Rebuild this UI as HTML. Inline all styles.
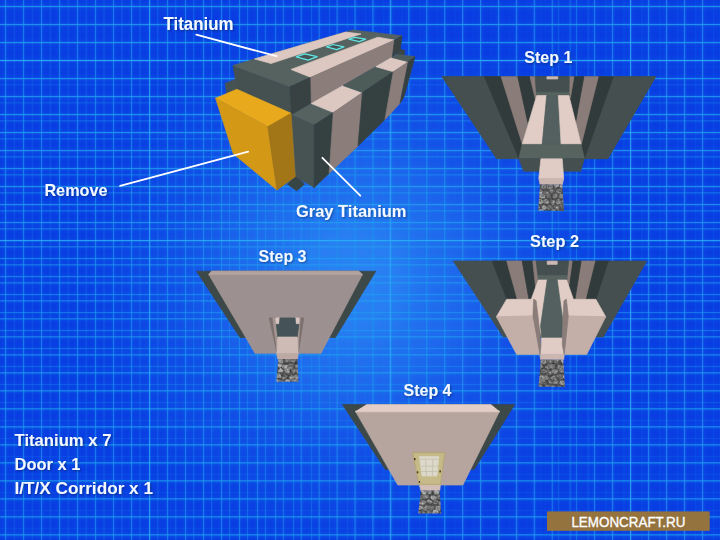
<!DOCTYPE html>
<html>
<head>
<meta charset="utf-8">
<title>Corridor blueprint</title>
<style>
html,body{margin:0;padding:0;background:#0b3fe0;}
body{width:720px;height:540px;overflow:hidden;position:relative;font-family:"Liberation Sans",sans-serif;}
svg{position:absolute;left:0;top:0;display:block;}
.lbl{font-family:"Liberation Sans",sans-serif;font-weight:bold;fill:#f4f8ff;}
</style>
</head>
<body>
<svg width="720" height="540" viewBox="0 0 720 540">
<defs>
  <pattern id="pVA" x="4.9" y="0" width="18" height="540" patternUnits="userSpaceOnUse"><rect x="0" y="0" width="1.2" height="540" fill="#1f8ff0"/></pattern>
  <pattern id="pVB" x="13.8" y="0" width="17.93" height="540" patternUnits="userSpaceOnUse"><rect x="0" y="0" width="1.2" height="540" fill="#1f8ff0"/></pattern>
  <pattern id="pVC" x="-0.1" y="0" width="18" height="540" patternUnits="userSpaceOnUse"><rect x="0" y="0" width="1.2" height="540" fill="#1f8ff0"/></pattern>
  <pattern id="pHA" x="0" y="5.9" width="720" height="18" patternUnits="userSpaceOnUse"><rect x="0" y="0" width="720" height="1.2" fill="#22a4f2"/></pattern>
  <pattern id="pHB" x="0" y="12.3" width="720" height="18" patternUnits="userSpaceOnUse"><rect x="0" y="0" width="720" height="1.2" fill="#22a4f2"/></pattern>
  <linearGradient id="gVA" x1="0" y1="0" x2="720" y2="0" gradientUnits="userSpaceOnUse">
    <stop offset="0" stop-color="#fff" stop-opacity="0.75"/><stop offset="0.35" stop-color="#fff" stop-opacity="0.75"/><stop offset="0.5" stop-color="#fff" stop-opacity="0.12"/><stop offset="1" stop-color="#fff" stop-opacity="0"/>
  </linearGradient>
  <linearGradient id="gVB" x1="0" y1="0" x2="720" y2="0" gradientUnits="userSpaceOnUse">
    <stop offset="0" stop-color="#fff" stop-opacity="0.2"/><stop offset="0.2" stop-color="#fff" stop-opacity="0.32"/><stop offset="0.35" stop-color="#fff" stop-opacity="0.5"/><stop offset="0.5" stop-color="#fff" stop-opacity="0.8"/><stop offset="0.75" stop-color="#fff" stop-opacity="0.8"/><stop offset="0.83" stop-color="#fff" stop-opacity="0.2"/><stop offset="1" stop-color="#fff" stop-opacity="0.14"/>
  </linearGradient>
  <linearGradient id="gVC" x1="0" y1="0" x2="720" y2="0" gradientUnits="userSpaceOnUse">
    <stop offset="0" stop-color="#fff" stop-opacity="0"/><stop offset="0.74" stop-color="#fff" stop-opacity="0"/><stop offset="0.83" stop-color="#fff" stop-opacity="0.8"/><stop offset="1" stop-color="#fff" stop-opacity="0.8"/>
  </linearGradient>
  <linearGradient id="gHA" x1="0" y1="0" x2="0" y2="540" gradientUnits="userSpaceOnUse">
    <stop offset="0" stop-color="#fff" stop-opacity="0.85"/><stop offset="0.35" stop-color="#fff" stop-opacity="0.8"/><stop offset="0.6" stop-color="#fff" stop-opacity="0.5"/><stop offset="0.78" stop-color="#fff" stop-opacity="0.16"/><stop offset="1" stop-color="#fff" stop-opacity="0.1"/>
  </linearGradient>
  <linearGradient id="gHB" x1="0" y1="0" x2="0" y2="540" gradientUnits="userSpaceOnUse">
    <stop offset="0" stop-color="#fff" stop-opacity="0"/><stop offset="0.12" stop-color="#fff" stop-opacity="0.08"/><stop offset="0.22" stop-color="#fff" stop-opacity="0.38"/><stop offset="0.5" stop-color="#fff" stop-opacity="0.6"/><stop offset="0.75" stop-color="#fff" stop-opacity="0.8"/><stop offset="1" stop-color="#fff" stop-opacity="0.8"/>
  </linearGradient>
  <mask id="mVA"><rect width="720" height="540" fill="url(#gVA)"/></mask>
  <mask id="mVB"><rect width="720" height="540" fill="url(#gVB)"/></mask>
  <mask id="mVC"><rect width="720" height="540" fill="url(#gVC)"/></mask>
  <mask id="mHA"><rect width="720" height="540" fill="url(#gHA)"/></mask>
  <mask id="mHB"><rect width="720" height="540" fill="url(#gHB)"/></mask>
  <filter id="ts" x="-10%" y="-30%" width="120%" height="160%">
    <feGaussianBlur in="SourceAlpha" stdDeviation="1.1" result="b"/>
    <feOffset in="b" dx="0.6" dy="0.8" result="o"/>
    <feComponentTransfer in="o" result="s"><feFuncA type="linear" slope="0.38"/></feComponentTransfer>
    <feMerge><feMergeNode in="s"/><feMergeNode in="SourceGraphic"/></feMerge>
  </filter>
  <filter id="soft"><feGaussianBlur stdDeviation="0.45"/></filter>
  <filter id="gglow" x="0" y="0" width="100%" height="100%"><feGaussianBlur stdDeviation="2.2"/></filter>
  <filter id="gsoft"><feGaussianBlur stdDeviation="0.35"/></filter>
  <radialGradient id="glow" cx="350" cy="280" r="300" gradientUnits="userSpaceOnUse">
    <stop offset="0" stop-color="#46b4ff" stop-opacity="0.58"/>
    <stop offset="0.15" stop-color="#46b4ff" stop-opacity="0.54"/>
    <stop offset="0.25" stop-color="#46b4ff" stop-opacity="0.43"/>
    <stop offset="0.35" stop-color="#46b4ff" stop-opacity="0.36"/>
    <stop offset="0.5" stop-color="#46b4ff" stop-opacity="0.21"/>
    <stop offset="0.6" stop-color="#46b4ff" stop-opacity="0.13"/>
    <stop offset="0.8" stop-color="#46b4ff" stop-opacity="0.035"/>
    <stop offset="0.9" stop-color="#46b4ff" stop-opacity="0"/>
  </radialGradient>
  <filter id="cobn" x="0" y="0" width="100%" height="100%" color-interpolation-filters="sRGB">
    <feTurbulence type="fractalNoise" baseFrequency="0.4" numOctaves="2" seed="7" result="n"/>
    <feColorMatrix in="n" type="matrix" values="1 0 0 0 0  1 0 0 0 0  1 0 0 0 0  0 0 0 0 1" result="g"/>
    <feComposite in="SourceGraphic" in2="g" operator="arithmetic" k1="0.8" k2="0.44" k3="0" k4="0"/>
  </filter>
</defs>
<rect width="720" height="540" fill="#0a3ce2"/>
<rect width="720" height="540" fill="url(#glow)"/>
<g filter="url(#gglow)" opacity="0.55">
<rect width="720" height="540" fill="url(#pVA)" mask="url(#mVA)"/>
<rect width="720" height="540" fill="url(#pVB)" mask="url(#mVB)"/>
<rect width="720" height="540" fill="url(#pVC)" mask="url(#mVC)"/>
<rect width="720" height="540" fill="url(#pHA)" mask="url(#mHA)"/>
<rect width="720" height="540" fill="url(#pHB)" mask="url(#mHB)"/>
</g>
<g filter="url(#gsoft)">
<rect width="720" height="540" fill="url(#pVA)" mask="url(#mVA)"/>
<rect width="720" height="540" fill="url(#pVB)" mask="url(#mVB)"/>
<rect width="720" height="540" fill="url(#pVC)" mask="url(#mVC)"/>
<rect width="720" height="540" fill="url(#pHA)" mask="url(#mHA)"/>
<rect width="720" height="540" fill="url(#pHB)" mask="url(#mHB)"/>
</g>

<g stroke="#3cc4ff" stroke-width="1.1" opacity="0.42" filter="url(#gsoft)">
<line x1="0" y1="60.5" x2="720" y2="60.5"/><line x1="0" y1="240.6" x2="720" y2="240.6"/>
<line x1="149.7" y1="0" x2="149.7" y2="540"/><line x1="390.2" y1="0" x2="390.2" y2="540"/><line x1="630.6" y1="0" x2="630.6" y2="540"/>
</g>

<!-- SHAPES -->
<g id="shapes" filter="url(#soft)">
<g id="main">
<polygon points="399,44 400.6,49.4 405,50.4 404,55 396,57" fill="#3a4646" stroke="#3a4646" stroke-width="0.7" stroke-linejoin="round"/>
<polygon points="225.2,83.3 236.1,79.2 238.5,90 226.7,93.8" fill="#465353" stroke="#465353" stroke-width="0.7" stroke-linejoin="round"/>
<polygon points="287.5,184.2 296.7,190.8 304.5,184.2 296,175" fill="#394444" stroke="#394444" stroke-width="0.7" stroke-linejoin="round"/>
<polygon points="233,65.5 290,86.7 292.5,120 237.5,92" fill="#445151" stroke="#445151" stroke-width="0.7" stroke-linejoin="round"/>
<polygon points="233,65.5 352.8,29.9 402,35.8 290,86.7" fill="#55625f" stroke="#55625f" stroke-width="0.7" stroke-linejoin="round"/>
<polygon points="254.5,58.9 345.6,32.1 361,33.9 271,63.5" fill="#dcc8c1" stroke="#dcc8c1" stroke-width="0.7" stroke-linejoin="round"/>
<polygon points="291,69.4 377.8,37.2 394.4,40.1 310.5,77.3" fill="#dcc8c1" stroke="#dcc8c1" stroke-width="0.7" stroke-linejoin="round"/>
<polygon points="290,86.7 310.8,77.3 311.3,103.5 291.7,115.2" fill="#374242" stroke="#374242" stroke-width="0.7" stroke-linejoin="round"/>
<polygon points="310.8,77.3 394.6,40 392.3,57.2 311.3,103.5" fill="#8b7d79" stroke="#8b7d79" stroke-width="0.7" stroke-linejoin="round"/>
<polygon points="394.6,40 402,35.8 400.3,49.5 392.3,57.2" fill="#374242" stroke="#374242" stroke-width="0.7" stroke-linejoin="round"/>
<polygon points="291.7,115.2 311.3,103.5 333.3,112.5 314.2,125" fill="#55625f" stroke="#55625f" stroke-width="0.7" stroke-linejoin="round"/>
<polygon points="311.3,103.5 343,85.6 362.5,92.5 333.3,112.5" fill="#dcc8c1" stroke="#dcc8c1" stroke-width="0.7" stroke-linejoin="round"/>
<polygon points="343,85.6 375.8,66.7 393.3,71.7 362.5,92.5" fill="#4e5b59" stroke="#4e5b59" stroke-width="0.7" stroke-linejoin="round"/>
<polygon points="375.8,66.7 391.7,57.5 408.3,61.7 393.3,71.7" fill="#dcc8c1" stroke="#dcc8c1" stroke-width="0.7" stroke-linejoin="round"/>
<polygon points="391.7,57.5 397,54.2 415,56.7 408.3,61.7" fill="#4e5b59" stroke="#4e5b59" stroke-width="0.7" stroke-linejoin="round"/>
<polygon points="291.7,115.2 314.2,125 314.2,187.5 295.8,176.7" fill="#465353" stroke="#465353" stroke-width="0.7" stroke-linejoin="round"/>
<polygon points="314.2,125 333.3,112.5 329.2,173.3 314.2,187.5" fill="#364141" stroke="#364141" stroke-width="0.7" stroke-linejoin="round"/>
<polygon points="333.3,112.5 362.5,92.5 358,146 329.2,173.3" fill="#8b7d79" stroke="#8b7d79" stroke-width="0.7" stroke-linejoin="round"/>
<polygon points="362.5,92.5 393.3,71.7 385,119.5 358,146" fill="#364141" stroke="#364141" stroke-width="0.7" stroke-linejoin="round"/>
<polygon points="393.3,71.7 408.3,61.7 400,103.3 385,119.5" fill="#8b7d79" stroke="#8b7d79" stroke-width="0.7" stroke-linejoin="round"/>
<polygon points="408.3,61.7 415,56.7 404,96.7 400,103.3" fill="#364141" stroke="#364141" stroke-width="0.7" stroke-linejoin="round"/>
<polygon points="215.6,98.2 236.9,89.3 291.1,113.3 267.8,126.7" fill="#e8aa1f" stroke="#e8aa1f" stroke-width="0.7" stroke-linejoin="round"/>
<polygon points="215.6,98.2 267.8,126.7 277,190 233.3,153.8" fill="#d29818" stroke="#d29818" stroke-width="0.7" stroke-linejoin="round"/>
<polygon points="267.8,126.7 291.1,113.3 295.3,176.7 277,190" fill="#a27614" stroke="#a27614" stroke-width="0.7" stroke-linejoin="round"/>
<g fill="#465252" stroke="#62e6e6" stroke-width="1.25" stroke-linejoin="round">
 <polygon points="296.2,56.9 304.6,53.9 317.2,56.7 308.2,60.2"/>
 <polygon points="326.6,46.9 333,44.5 343.9,46.9 336.6,49.7"/>
 <polygon points="348.8,39.1 354.6,37.4 365.6,39.1 359.3,41.7"/>
</g>
</g>
<g id="s1">
<polygon points="442.2,76.7 655.6,76.7 607.8,158.6 496.7,158.6" fill="#445050" stroke="#445050" stroke-width="0.7" stroke-linejoin="round"/>
<polygon points="442.2,76.7 484.4,76.7 518.9,158.3 496.7,158.3" fill="#445050" stroke="#445050" stroke-width="0.7" stroke-linejoin="round"/>
<polygon points="484.4,76.7 501.1,76.7 522.4,144.4 518.9,158.3" fill="#313b3b" stroke="#313b3b" stroke-width="0.7" stroke-linejoin="round"/>
<polygon points="501.1,76.7 517.8,76.7 527.8,122.5 522.4,144.4" fill="#8a7c78" stroke="#8a7c78" stroke-width="0.7" stroke-linejoin="round"/>
<polygon points="517.8,76.7 530,76.7 535.3,99 527.8,122.5" fill="#313b3b" stroke="#313b3b" stroke-width="0.7" stroke-linejoin="round"/>
<polygon points="530,76.7 535.3,76.7 536.3,93 535.3,99" fill="#8a7c78" stroke="#8a7c78" stroke-width="0.7" stroke-linejoin="round"/>
<polygon points="613.3,76.7 655.6,76.7 607.8,158.6 584.4,158.6" fill="#445050" stroke="#445050" stroke-width="0.7" stroke-linejoin="round"/>
<polygon points="598.3,76.7 613.3,76.7 584.4,158.6 581.1,144.4" fill="#313b3b" stroke="#313b3b" stroke-width="0.7" stroke-linejoin="round"/>
<polygon points="583.9,76.7 598.3,76.7 581.3,144.4 575.6,122.2" fill="#8a7c78" stroke="#8a7c78" stroke-width="0.7" stroke-linejoin="round"/>
<polygon points="573.9,76.7 583.9,76.7 575.6,122.2 570.4,98" fill="#313b3b" stroke="#313b3b" stroke-width="0.7" stroke-linejoin="round"/>
<polygon points="569.2,76.7 573.9,76.7 570.4,98 568.9,93" fill="#8a7c78" stroke="#8a7c78" stroke-width="0.7" stroke-linejoin="round"/>
<polygon points="535.3,76.7 569.2,76.7 569,93 536.3,93" fill="#445050" stroke="#445050" stroke-width="0.7" stroke-linejoin="round"/>
<polygon points="546.9,76.7 557.8,76.7 557.8,79 546.9,79" fill="#cdb9b3" stroke="#cdb9b3" stroke-width="0.7" stroke-linejoin="round"/>
<polygon points="536.3,92.4 569,92.4 569.3,95.8 536.5,95.8" fill="#56635f" stroke="#56635f" stroke-width="0.7" stroke-linejoin="round"/>
<polygon points="536.7,95.6 546.7,95.6 542.2,144.4 522.2,144.4" fill="#e1cdc6" stroke="#e1cdc6" stroke-width="0.7" stroke-linejoin="round"/>
<polygon points="546.7,95.6 558.3,95.6 561.1,144.4 542.2,144.4" fill="#52605f" stroke="#52605f" stroke-width="0.7" stroke-linejoin="round"/>
<polygon points="558.3,95.6 568.9,95.6 581.1,144.4 561.1,144.4" fill="#e1cdc6" stroke="#e1cdc6" stroke-width="0.7" stroke-linejoin="round"/>
<polygon points="522.2,144.4 581.1,144.4 584.4,158.6 518.9,158.6" fill="#56635f" stroke="#56635f" stroke-width="0.7" stroke-linejoin="round"/>
<polygon points="518.9,158.6 584.4,158.6 580.7,171.2 523.7,171.2" fill="#445050" stroke="#445050" stroke-width="0.7" stroke-linejoin="round"/>
<polygon points="540.9,158.8 562.2,158.8 563.7,178.5 538.8,178.5" fill="#e0ccc5" stroke="#e0ccc5" stroke-width="0.7" stroke-linejoin="round"/>
<polygon points="538.8,178.5 563.7,178.5 562.4,184.4 540,184.4" fill="#ccb6b0" stroke="#ccb6b0" stroke-width="0.7" stroke-linejoin="round"/>
</g>
<g id="s2">
<polygon points="453.3,261.1 646.7,261.1 603.3,336.9 503.3,336.9" fill="#445050" stroke="#445050" stroke-width="0.7" stroke-linejoin="round"/>
<polygon points="492.2,261.1 506.7,261.1 517.2,299 506.7,299" fill="#313b3b" stroke="#313b3b" stroke-width="0.7" stroke-linejoin="round"/>
<polygon points="506.7,261.1 522.2,261.1 528.9,299 517.2,299" fill="#8a7c78" stroke="#8a7c78" stroke-width="0.7" stroke-linejoin="round"/>
<polygon points="522.2,261.1 532.8,261.1 535.6,287.2 532.8,299 528.9,299" fill="#313b3b" stroke="#313b3b" stroke-width="0.7" stroke-linejoin="round"/>
<polygon points="532.8,261.1 536.1,261.1 538.3,279 535.6,287.2" fill="#8a7c78" stroke="#8a7c78" stroke-width="0.7" stroke-linejoin="round"/>
<polygon points="608.3,261.1 595,261.1 585.6,299 596.1,299" fill="#313b3b" stroke="#313b3b" stroke-width="0.7" stroke-linejoin="round"/>
<polygon points="595,261.1 581.1,261.1 575,299 585.6,299" fill="#8a7c78" stroke="#8a7c78" stroke-width="0.7" stroke-linejoin="round"/>
<polygon points="581.1,261.1 572.2,261.1 568.9,285 572,299 575,299" fill="#313b3b" stroke="#313b3b" stroke-width="0.7" stroke-linejoin="round"/>
<polygon points="572.2,261.1 568.3,261.1 567.3,279 568.9,285" fill="#8a7c78" stroke="#8a7c78" stroke-width="0.7" stroke-linejoin="round"/>
<polygon points="536.1,261.1 568.7,261.1 567,276 538,276" fill="#445050" stroke="#445050" stroke-width="0.7" stroke-linejoin="round"/>
<polygon points="547.2,261.1 557.2,261.1 557.2,264.4 547.2,264.4" fill="#cdb9b3" stroke="#cdb9b3" stroke-width="0.7" stroke-linejoin="round"/>
<polygon points="538,275.6 567,275.6 566.8,280.2 538.3,280.2" fill="#56635f" stroke="#56635f" stroke-width="0.7" stroke-linejoin="round"/>
<polygon points="538.3,280 547.2,280 542,338 531,300" fill="#e1cdc6" stroke="#e1cdc6" stroke-width="0.7" stroke-linejoin="round"/>
<polygon points="557.2,280 566.7,280 573.6,300 562.5,338" fill="#e1cdc6" stroke="#e1cdc6" stroke-width="0.7" stroke-linejoin="round"/>
<polygon points="547.2,280 557.2,280 563.6,325.8 562.5,338 541.7,338 540.6,325.8" fill="#52605f" stroke="#52605f" stroke-width="0.7" stroke-linejoin="round"/>
<polygon points="541.7,338 562.5,338 564.2,354.4 540,354.4" fill="#e0ccc5" stroke="#e0ccc5" stroke-width="0.7" stroke-linejoin="round"/>
<polygon points="540,354.4 564.2,354.4 563.8,359.6 540.5,359.6" fill="#ccb6b0" stroke="#ccb6b0" stroke-width="0.7" stroke-linejoin="round"/>
<polygon points="506.7,299.3 533.3,299.3 533,316 496.3,316.9" fill="#e0ccc5" stroke="#e0ccc5" stroke-width="0.7" stroke-linejoin="round"/>
<polygon points="496.3,316.7 533,315.8 540,354.4 516.7,354.4" fill="#c3aea8" stroke="#c3aea8" stroke-width="0.7" stroke-linejoin="round"/>
<polygon points="533.6,299.3 536.1,300.6 538,316 541,345 540,354.4 533,315.8" fill="#8a7c78" stroke="#8a7c78" stroke-width="0.7" stroke-linejoin="round"/>
<polygon points="566.7,299.3 595.8,299.3 605.8,316.9 568.3,316" fill="#e0ccc5" stroke="#e0ccc5" stroke-width="0.7" stroke-linejoin="round"/>
<polygon points="568.3,315.8 605.8,316.7 586.7,354.4 564.2,354.4" fill="#c3aea8" stroke="#c3aea8" stroke-width="0.7" stroke-linejoin="round"/>
<polygon points="566.4,299.3 564,300.6 563,316 562.3,345 564.2,354.4 568.3,315.8" fill="#8a7c78" stroke="#8a7c78" stroke-width="0.7" stroke-linejoin="round"/>
</g>
<g id="s3">
<polygon points="196.5,271.2 375.8,271.2 335.4,337.5 240,337.5" fill="#3c4848" stroke="#3c4848" stroke-width="0.7" stroke-linejoin="round"/>
<polygon points="211.5,271.2 358.5,271.2 362.5,274.4 321,353.3 255,353.3 208.7,274.4" fill="#9d9090" stroke="#9d9090" stroke-width="0.7" stroke-linejoin="round"/>
<polygon points="211.5,271.2 358.5,271.2 362.5,274.6 208.7,274.6" fill="#b3a39f" stroke="#b3a39f" stroke-width="0.7" stroke-linejoin="round"/>
<polygon points="269.2,317.9 276,317.9 277.8,337 276.8,352.5" fill="#7c706e" stroke="#7c706e" stroke-width="0.7" stroke-linejoin="round"/>
<polygon points="303.8,317.9 299,317.9 297.2,337 298.4,352.5" fill="#7c706e" stroke="#7c706e" stroke-width="0.7" stroke-linejoin="round"/>
<polygon points="272.8,317.9 276,317.9 277.6,340 276.9,349" fill="#a59692" stroke="#a59692" stroke-width="0.7" stroke-linejoin="round"/>
<polygon points="300.2,317.9 299,317.9 297.4,340 298.2,349" fill="#a59692" stroke="#a59692" stroke-width="0.7" stroke-linejoin="round"/>
<polygon points="275.8,317.9 279.9,317.9 279.4,324.3 276.3,324.3" fill="#d8c4be" stroke="#d8c4be" stroke-width="0.7" stroke-linejoin="round"/>
<polygon points="295.1,317.9 299.2,317.9 298.9,324.3 295.6,324.3" fill="#d8c4be" stroke="#d8c4be" stroke-width="0.7" stroke-linejoin="round"/>
<polygon points="279.9,317.9 295.1,317.9 295.6,324.3 298.9,324.3 297.2,337 277.8,337 276.3,324.3 279.4,324.3" fill="#445358" stroke="#445358" stroke-width="0.7" stroke-linejoin="round"/>
<polygon points="277.8,337 297.2,337 298.2,353.8 276.8,353.8" fill="#cebbb6" stroke="#cebbb6" stroke-width="0.7" stroke-linejoin="round"/>
<polygon points="276.8,353.8 298.2,353.8 297.7,358.9 277.6,358.9" fill="#bda9a4" stroke="#bda9a4" stroke-width="0.7" stroke-linejoin="round"/>
</g>
<g id="s4">
<polygon points="342.5,404.6 514.7,404.6 474.3,469.3 385.2,469.3" fill="#3c4848" stroke="#3c4848" stroke-width="0.7" stroke-linejoin="round"/>
<polygon points="355.3,411 499.7,411 462.8,485 397.8,485" fill="#b6a59e" stroke="#b6a59e" stroke-width="0.7" stroke-linejoin="round"/>
<polygon points="366.7,404.6 490.8,404.6 499.7,411.8 355.3,411.8" fill="#e2cec7" stroke="#e2cec7" stroke-width="0.7" stroke-linejoin="round"/>
<polygon points="419.3,484.4 440.4,484.4 439.8,490.6 420.8,490.6" fill="#d2bdb6" stroke="#d2bdb6" stroke-width="0.7" stroke-linejoin="round"/>
<polygon points="412.4,452.4 445,452.4 440.6,484.6 418.9,484.6" fill="#b3a672" stroke="#b3a672" stroke-width="0.7" stroke-linejoin="round"/>
<polygon points="413.6,453.4 443.9,453.4 439.8,483.8 419.7,483.8" fill="#c6ba88" stroke="#c6ba88" stroke-width="0.7" stroke-linejoin="round"/>
<polygon points="419.4,456.6 438.8,456.6 436.9,476 422.1,476" fill="#dcd9ca" stroke="#dcd9ca" stroke-width="0.7" stroke-linejoin="round"/>
<g stroke="#c3bfad" stroke-width="0.8" fill="none">
 <line x1="425.5" y1="459" x2="426.5" y2="476"/><line x1="432.8" y1="459" x2="432.4" y2="476"/>
 <line x1="419.6" y1="459.2" x2="438.6" y2="459.2"/><line x1="420.3" y1="466.2" x2="438" y2="466.2"/><line x1="421.2" y1="471.5" x2="437.4" y2="471.5"/>
</g>
<g fill="#4a3320"><rect x="414" y="458" width="1.5" height="2.2"/><rect x="416.8" y="471.3" width="1.5" height="2"/><rect x="418.8" y="481" width="1.3" height="1.8"/><rect x="439.4" y="470.4" width="1.5" height="2"/></g>
</g>
<g id="cob">
<clipPath id="c1"><polygon points="540,184.4 562.4,184.4 564,211 538.2,210.6"/></clipPath>
<g clip-path="url(#c1)"><g filter="url(#cobn)">
<rect x="537.2" y="183.4" width="27.799999999999955" height="28.599999999999994" fill="#5c5c5c"/>
<polygon points="539.1,186.9 538.2,188.5 535.3,189.3 534.3,187.9 533.9,185.2 536.1,184.5 538.3,184.4" fill="#939393"/>
<rect x="536.8" y="186.8" width="1.0" height="0.8" fill="#b8b8b8"/>
<polygon points="546.3,186.6 545.2,188.4 543.2,189.2 541.0,187.8 540.9,186.1 542.8,184.5 545.0,184.2" fill="#8a8a8a"/>
<rect x="542.1" y="186.6" width="1.7" height="1.0" fill="#b8b8b8"/>
<polygon points="553.2,187.3 551.5,189.0 549.0,188.7 547.1,188.2 547.0,185.4 549.2,184.0 552.2,184.5" fill="#9c9c9c"/>
<rect x="550.0" y="186.1" width="1.9" height="1.3" fill="#6f6f6f"/>
<polygon points="559.0,185.3 558.9,187.0 555.8,187.8 553.8,186.1 553.8,183.5 555.8,182.5 557.7,183.1" fill="#a6a6a6"/>
<rect x="556.0" y="185.2" width="1.2" height="1.1" fill="#c2c2c2"/>
<polygon points="565.9,186.0 565.3,188.4 563.2,188.8 559.7,186.9 560.2,184.5 562.4,183.5 564.6,184.3" fill="#b4b4b4"/>
<rect x="562.7" y="186.4" width="1.4" height="1.3" fill="#b8b8b8"/>
<polygon points="571.4,185.0 570.2,186.8 566.8,187.4 565.5,185.8 565.0,184.3 567.8,182.0 569.5,182.3" fill="#a6a6a6"/>
<rect x="568.3" y="184.4" width="1.8" height="1.0" fill="#c2c2c2"/>
<polygon points="542.6,191.5 541.8,193.4 538.3,194.2 537.1,192.7 537.1,190.5 538.6,189.7 541.7,189.5" fill="#b4b4b4"/>
<rect x="538.7" y="191.8" width="2.0" height="1.4" fill="#c2c2c2"/>
<polygon points="549.3,191.9 549.2,194.0 545.7,194.7 543.3,193.5 543.8,190.5 546.0,189.7 548.0,190.6" fill="#7e7e7e"/>
<rect x="546.5" y="192.0" width="1.4" height="1.2" fill="#b8b8b8"/>
<polygon points="554.3,190.2 554.5,192.5 551.5,192.9 549.4,191.5 548.7,189.3 551.3,188.4 554.1,189.1" fill="#7e7e7e"/>
<rect x="551.3" y="190.1" width="1.3" height="0.9" fill="#b8b8b8"/>
<polygon points="561.9,190.8 560.9,193.0 558.7,193.4 555.9,191.8 556.6,190.6 558.2,188.3 561.4,189.5" fill="#939393"/>
<rect x="559.2" y="191.2" width="1.9" height="1.0" fill="#6f6f6f"/>
<polygon points="569.6,191.6 568.4,193.5 566.0,193.8 563.3,192.2 563.3,190.2 565.9,189.2 567.6,189.7" fill="#8a8a8a"/>
<rect x="566.4" y="190.6" width="1.6" height="0.9" fill="#b8b8b8"/>
<polygon points="539.4,196.2 537.5,197.8 535.2,198.4 533.3,197.0 533.6,195.1 534.9,193.0 538.4,193.5" fill="#9c9c9c"/>
<rect x="534.7" y="194.6" width="1.3" height="1.2" fill="#6f6f6f"/>
<polygon points="545.6,196.8 544.7,198.3 541.5,198.5 539.3,197.6 538.9,195.6 541.3,193.5 544.5,194.7" fill="#b4b4b4"/>
<rect x="541.2" y="196.0" width="1.1" height="1.2" fill="#b8b8b8"/>
<polygon points="551.3,196.1 550.3,197.6 548.2,197.7 545.0,196.3 546.4,194.2 547.3,193.1 551.0,194.0" fill="#7e7e7e"/>
<rect x="548.4" y="194.8" width="1.5" height="1.0" fill="#6f6f6f"/>
<polygon points="558.8,195.4 557.3,197.8 554.2,198.5 552.7,196.9 552.5,194.9 555.0,192.9 556.8,193.7" fill="#8a8a8a"/>
<rect x="554.9" y="195.5" width="1.2" height="0.8" fill="#b8b8b8"/>
<polygon points="564.0,195.8 563.9,197.4 561.0,198.5 558.3,197.0 558.4,195.0 561.2,193.6 563.5,194.3" fill="#939393"/>
<rect x="561.6" y="195.0" width="1.1" height="1.1" fill="#c2c2c2"/>
<polygon points="571.8,196.6 570.4,198.0 568.7,199.0 565.8,197.0 566.5,194.6 568.9,193.9 570.8,194.4" fill="#7e7e7e"/>
<rect x="568.2" y="196.2" width="1.7" height="1.1" fill="#b8b8b8"/>
<polygon points="543.3,201.3 542.9,203.1 539.9,203.9 536.7,202.3 538.2,200.1 539.7,198.8 541.9,199.7" fill="#b4b4b4"/>
<rect x="539.8" y="200.5" width="1.1" height="1.1" fill="#6f6f6f"/>
<polygon points="549.2,202.1 547.2,203.9 545.5,203.9 542.4,202.6 543.3,200.3 545.2,198.8 548.2,199.4" fill="#939393"/>
<rect x="546.2" y="201.6" width="1.6" height="1.0" fill="#c2c2c2"/>
<polygon points="555.6,202.1 554.9,204.3 552.5,205.2 550.4,203.4 549.6,201.8 552.1,200.1 554.2,200.3" fill="#8a8a8a"/>
<rect x="552.8" y="201.4" width="1.7" height="1.2" fill="#b8b8b8"/>
<polygon points="561.8,201.5 561.4,203.8 557.3,204.4 555.6,203.5 556.4,200.5 558.2,199.1 560.8,200.0" fill="#9c9c9c"/>
<rect x="559.1" y="201.3" width="1.8" height="1.1" fill="#c2c2c2"/>
<polygon points="567.8,201.0 565.4,203.5 563.5,203.9 562.0,202.9 561.1,200.7 563.0,199.6 565.8,199.9" fill="#7e7e7e"/>
<rect x="563.2" y="200.8" width="1.2" height="0.9" fill="#b8b8b8"/>
<polygon points="539.9,207.2 538.7,209.0 535.4,208.9 533.9,208.1 533.8,206.3 536.4,204.6 539.1,204.9" fill="#a6a6a6"/>
<rect x="536.1" y="205.7" width="1.3" height="1.2" fill="#c2c2c2"/>
<polygon points="546.8,207.0 545.4,209.7 542.9,210.1 541.6,208.6 541.5,206.3 543.3,205.2 546.2,205.7" fill="#a6a6a6"/>
<rect x="544.4" y="206.9" width="1.6" height="1.4" fill="#b8b8b8"/>
<polygon points="553.2,208.0 552.5,209.6 549.1,210.1 546.7,208.3 547.4,205.9 549.1,205.1 551.5,205.5" fill="#7e7e7e"/>
<rect x="549.6" y="208.0" width="1.3" height="1.2" fill="#6f6f6f"/>
<polygon points="559.5,208.1 558.1,209.7 555.7,209.7 554.4,209.4 553.7,206.9 556.2,205.4 558.2,205.8" fill="#8a8a8a"/>
<rect x="556.1" y="206.9" width="1.7" height="1.3" fill="#c2c2c2"/>
<polygon points="565.1,206.9 563.7,208.2 561.3,209.2 559.5,207.7 559.9,205.5 561.3,203.7 564.2,204.8" fill="#7e7e7e"/>
<rect x="561.8" y="205.7" width="1.2" height="1.3" fill="#6f6f6f"/>
<polygon points="570.7,206.8 569.7,208.2 566.7,208.5 564.6,207.4 565.3,205.1 567.2,204.1 569.4,204.7" fill="#b4b4b4"/>
<rect x="566.8" y="205.5" width="2.0" height="1.2" fill="#b8b8b8"/>
<polygon points="544.3,212.1 543.2,213.4 539.9,214.2 538.5,213.1 537.7,210.8 540.2,208.8 543.4,209.8" fill="#b4b4b4"/>
<rect x="540.7" y="210.6" width="1.1" height="1.2" fill="#6f6f6f"/>
<polygon points="549.5,212.7 547.7,215.0 546.1,215.5 543.8,214.0 543.7,212.5 545.6,210.2 547.5,211.3" fill="#7e7e7e"/>
<rect x="546.4" y="213.4" width="1.6" height="1.0" fill="#b8b8b8"/>
<polygon points="556.1,212.0 555.5,213.7 553.1,214.0 550.6,213.3 550.6,210.7 552.3,209.3 555.3,209.6" fill="#939393"/>
<rect x="552.0" y="211.9" width="1.9" height="1.0" fill="#c2c2c2"/>
<polygon points="561.5,213.2 560.2,215.2 558.4,215.6 556.5,214.1 556.4,211.6 557.9,210.6 560.7,210.5" fill="#a6a6a6"/>
<rect x="558.2" y="212.4" width="1.1" height="1.4" fill="#c2c2c2"/>
<polygon points="568.8,212.0 567.9,213.9 564.7,214.5 563.2,213.5 563.1,211.7 565.3,210.2 568.0,210.3" fill="#939393"/>
<rect x="565.1" y="212.3" width="1.6" height="1.4" fill="#6f6f6f"/>
</g></g>
<clipPath id="c2"><polygon points="540.8,359.7 563.3,359.7 565,386.7 538.5,386.7"/></clipPath>
<g clip-path="url(#c2)"><g filter="url(#cobn)">
<rect x="537.5" y="358.7" width="28.5" height="29.0" fill="#5c5c5c"/>
<polygon points="541.2,361.6 540.2,364.5 537.7,364.3 535.6,363.1 536.2,361.1 537.8,359.8 541.2,360.0" fill="#b4b4b4"/>
<rect x="539.1" y="361.7" width="1.9" height="1.3" fill="#b8b8b8"/>
<polygon points="546.3,362.6 544.6,364.0 543.2,364.3 541.1,363.3 540.7,361.0 542.7,359.6 545.8,360.6" fill="#9c9c9c"/>
<rect x="542.9" y="362.3" width="1.4" height="1.2" fill="#b8b8b8"/>
<polygon points="553.1,361.8 551.8,364.0 548.7,364.1 547.0,363.3 546.5,360.7 549.1,359.5 551.8,360.4" fill="#7e7e7e"/>
<rect x="549.6" y="361.5" width="1.2" height="1.0" fill="#b8b8b8"/>
<polygon points="559.3,361.0 557.9,362.6 555.1,363.0 553.8,361.6 553.8,359.2 555.7,358.4 558.8,358.3" fill="#8a8a8a"/>
<rect x="556.7" y="359.9" width="1.0" height="1.3" fill="#c2c2c2"/>
<polygon points="566.1,360.5 565.4,362.6 562.1,362.9 561.2,361.8 560.6,358.7 562.0,357.8 565.4,358.9" fill="#b4b4b4"/>
<rect x="562.4" y="359.2" width="1.1" height="0.8" fill="#c2c2c2"/>
<polygon points="570.1,361.9 568.9,364.5 566.8,364.1 564.3,363.1 564.0,361.1 565.8,359.4 569.7,360.0" fill="#b4b4b4"/>
<rect x="566.9" y="361.3" width="1.6" height="1.2" fill="#6f6f6f"/>
<polygon points="542.7,365.9 542.2,368.0 539.4,368.7 537.1,366.6 536.5,364.4 538.8,363.4 541.3,364.2" fill="#b4b4b4"/>
<rect x="538.5" y="366.4" width="1.7" height="1.2" fill="#6f6f6f"/>
<polygon points="550.6,366.6 550.2,368.5 547.6,369.8 545.5,367.6 544.8,366.0 546.8,364.9 549.6,364.5" fill="#8a8a8a"/>
<rect x="547.1" y="366.8" width="1.3" height="1.3" fill="#b8b8b8"/>
<polygon points="555.2,365.9 554.2,367.7 552.2,369.0 550.1,367.6 549.6,365.0 551.6,363.9 554.5,364.3" fill="#939393"/>
<rect x="552.3" y="365.8" width="1.0" height="1.2" fill="#b8b8b8"/>
<polygon points="563.7,367.5 561.8,369.5 560.2,370.3 557.8,368.8 557.1,365.9 559.0,364.7 561.7,365.6" fill="#939393"/>
<rect x="560.3" y="367.5" width="1.1" height="1.2" fill="#b8b8b8"/>
<polygon points="567.8,367.4 567.6,368.7 564.4,369.5 562.9,368.3 562.2,366.3 564.2,365.1 567.5,365.8" fill="#a6a6a6"/>
<rect x="565.1" y="366.6" width="1.4" height="0.9" fill="#c2c2c2"/>
<polygon points="539.1,372.1 538.1,374.1 535.4,374.1 533.9,373.3 533.9,370.5 536.2,369.7 538.6,370.0" fill="#9c9c9c"/>
<rect x="535.3" y="371.9" width="1.5" height="1.2" fill="#c2c2c2"/>
<polygon points="547.3,371.3 546.3,372.4 543.3,373.7 540.9,371.7 541.6,369.4 544.0,368.9 546.5,369.5" fill="#7e7e7e"/>
<rect x="544.5" y="370.4" width="1.2" height="1.0" fill="#b8b8b8"/>
<polygon points="552.0,373.4 551.0,374.5 548.5,375.0 546.2,374.5 545.8,371.9 548.1,370.2 551.2,371.1" fill="#7e7e7e"/>
<rect x="549.3" y="372.3" width="1.7" height="1.0" fill="#c2c2c2"/>
<polygon points="558.3,371.1 557.2,373.4 554.5,373.9 551.7,372.4 551.7,370.7 554.7,368.9 556.7,369.0" fill="#9c9c9c"/>
<rect x="555.4" y="370.7" width="1.5" height="1.3" fill="#b8b8b8"/>
<polygon points="565.1,370.7 564.5,373.0 561.8,373.5 559.3,371.7 559.2,369.9 561.0,368.5 564.2,369.3" fill="#8a8a8a"/>
<rect x="560.6" y="371.1" width="1.5" height="1.1" fill="#c2c2c2"/>
<polygon points="571.0,372.9 570.1,374.4 566.9,374.9 565.2,373.9 564.9,370.5 566.9,369.5 569.9,369.9" fill="#8a8a8a"/>
<rect x="566.5" y="372.3" width="1.8" height="1.0" fill="#6f6f6f"/>
<polygon points="543.7,378.2 543.2,379.4 540.4,380.1 538.6,379.4 538.7,376.3 540.4,375.4 543.1,375.5" fill="#b4b4b4"/>
<rect x="540.8" y="377.3" width="1.5" height="1.3" fill="#6f6f6f"/>
<polygon points="549.0,377.6 547.4,380.1 545.2,380.6 543.2,379.4 542.9,376.9 545.6,375.1 547.7,376.1" fill="#939393"/>
<rect x="545.4" y="377.5" width="1.1" height="0.9" fill="#6f6f6f"/>
<polygon points="556.1,378.2 555.4,379.5 552.9,380.3 550.5,378.4 550.2,377.1 553.5,375.5 554.9,375.9" fill="#939393"/>
<rect x="552.2" y="377.7" width="1.4" height="1.0" fill="#6f6f6f"/>
<polygon points="563.1,377.1 562.2,378.8 559.4,379.5 556.9,377.3 556.9,375.1 559.6,373.9 562.6,374.8" fill="#7e7e7e"/>
<rect x="559.5" y="376.5" width="1.1" height="1.0" fill="#6f6f6f"/>
<polygon points="568.3,377.2 568.1,378.6 565.0,379.1 562.8,377.2 562.9,376.1 565.2,374.0 567.1,375.2" fill="#b4b4b4"/>
<rect x="565.6" y="376.5" width="1.5" height="1.1" fill="#c2c2c2"/>
<polygon points="541.5,381.9 539.9,384.8 538.1,384.4 536.2,383.3 535.3,381.5 538.2,380.1 541.0,380.6" fill="#8a8a8a"/>
<rect x="538.8" y="381.3" width="1.1" height="1.1" fill="#c2c2c2"/>
<polygon points="545.8,382.3 545.0,384.4 541.9,384.2 540.5,383.9 540.0,380.9 542.5,379.6 544.5,379.9" fill="#7e7e7e"/>
<rect x="543.7" y="382.3" width="1.5" height="1.0" fill="#6f6f6f"/>
<polygon points="553.5,381.0 552.7,383.5 548.9,384.4 547.7,383.1 547.9,380.5 548.8,379.4 551.3,379.7" fill="#7e7e7e"/>
<rect x="549.1" y="381.7" width="1.5" height="1.3" fill="#c2c2c2"/>
<polygon points="558.6,381.3 557.7,383.8 556.0,384.2 553.4,383.5 553.1,380.7 555.0,379.4 557.3,379.3" fill="#939393"/>
<rect x="555.5" y="381.7" width="1.6" height="1.2" fill="#c2c2c2"/>
<polygon points="565.5,382.7 564.0,385.0 561.0,385.2 559.3,383.4 559.8,381.4 560.8,380.6 563.2,380.9" fill="#b4b4b4"/>
<rect x="562.1" y="382.5" width="1.5" height="1.0" fill="#6f6f6f"/>
<polygon points="572.4,383.1 570.9,385.7 569.2,386.1 566.9,384.8 566.3,382.3 568.6,380.8 571.3,381.7" fill="#a6a6a6"/>
<rect x="569.2" y="383.6" width="1.8" height="1.2" fill="#b8b8b8"/>
<polygon points="542.7,386.7 541.1,389.0 537.9,389.9 536.5,387.9 536.9,386.5 539.3,384.6 541.4,384.8" fill="#8a8a8a"/>
<rect x="538.8" y="386.7" width="1.7" height="1.1" fill="#c2c2c2"/>
<polygon points="550.0,387.3 548.4,389.1 546.7,389.6 544.5,388.3 545.0,385.7 546.9,384.4 549.4,385.4" fill="#9c9c9c"/>
<rect x="546.4" y="386.9" width="1.6" height="1.1" fill="#6f6f6f"/>
<polygon points="555.7,388.8 555.1,389.9 552.0,390.8 549.8,389.2 550.5,387.3 552.8,385.5 555.1,386.2" fill="#a6a6a6"/>
<rect x="553.0" y="387.2" width="2.0" height="0.8" fill="#c2c2c2"/>
<polygon points="562.7,388.7 561.6,390.0 558.4,390.6 556.7,389.3 556.0,387.7 558.9,385.8 561.0,386.6" fill="#a6a6a6"/>
<rect x="558.7" y="388.5" width="1.2" height="1.1" fill="#6f6f6f"/>
<polygon points="569.4,388.2 567.5,390.7 565.4,390.9 563.4,389.8 563.7,387.5 565.0,385.8 568.7,386.6" fill="#a6a6a6"/>
<rect x="565.5" y="388.1" width="1.4" height="0.9" fill="#6f6f6f"/>
</g></g>
<clipPath id="c3"><polygon points="278.3,359 297.5,359 298.5,381.8 276.3,381.8"/></clipPath>
<g clip-path="url(#c3)"><g filter="url(#cobn)">
<rect x="275.3" y="358.0" width="24.19999999999999" height="24.80000000000001" fill="#5c5c5c"/>
<polygon points="277.9,360.4 276.2,362.3 274.7,363.4 272.3,361.8 272.3,359.0 274.5,358.1 276.5,359.0" fill="#7e7e7e"/>
<rect x="275.0" y="360.2" width="1.7" height="1.2" fill="#c2c2c2"/>
<polygon points="283.3,361.1 283.2,362.8 279.8,363.7 277.2,361.7 278.1,359.5 280.2,358.6 283.2,359.2" fill="#a6a6a6"/>
<rect x="279.2" y="360.2" width="2.0" height="1.1" fill="#c2c2c2"/>
<polygon points="291.0,360.1 290.2,362.0 287.1,362.9 284.7,361.1 285.1,358.4 287.6,357.9 290.7,358.2" fill="#8a8a8a"/>
<rect x="286.6" y="360.0" width="1.6" height="1.4" fill="#b8b8b8"/>
<polygon points="296.6,359.7 295.2,361.6 293.3,362.6 291.0,361.3 290.9,358.9 292.8,357.0 295.2,357.6" fill="#8a8a8a"/>
<rect x="292.9" y="360.1" width="1.3" height="0.8" fill="#6f6f6f"/>
<polygon points="303.3,359.2 301.9,361.4 300.4,362.4 297.3,361.1 298.0,358.1 299.6,357.1 302.5,357.6" fill="#8a8a8a"/>
<rect x="300.1" y="359.9" width="1.5" height="1.1" fill="#c2c2c2"/>
<polygon points="282.5,365.0 280.9,367.3 279.0,367.8 276.6,366.1 276.1,364.0 277.5,362.9 280.9,363.2" fill="#b4b4b4"/>
<rect x="278.9" y="365.3" width="1.0" height="0.8" fill="#b8b8b8"/>
<polygon points="288.0,366.5 286.7,368.7 284.6,369.1 282.2,368.0 282.3,365.9 284.8,364.7 287.2,364.7" fill="#b4b4b4"/>
<rect x="283.9" y="366.8" width="1.2" height="0.9" fill="#b8b8b8"/>
<polygon points="293.5,365.8 293.0,368.3 290.0,369.0 288.3,367.6 287.6,364.8 290.0,364.0 292.1,364.0" fill="#939393"/>
<rect x="290.8" y="366.4" width="1.2" height="1.0" fill="#6f6f6f"/>
<polygon points="300.6,366.5 299.9,367.6 296.7,368.3 295.2,367.3 295.0,365.1 297.7,363.9 299.2,363.5" fill="#8a8a8a"/>
<rect x="297.1" y="366.4" width="1.9" height="0.9" fill="#b8b8b8"/>
<polygon points="306.9,366.7 305.8,368.2 303.6,368.6 301.2,367.4 301.7,365.3 303.7,363.8 306.5,364.7" fill="#9c9c9c"/>
<rect x="302.3" y="366.1" width="1.1" height="1.1" fill="#b8b8b8"/>
<polygon points="277.3,370.2 275.9,372.1 274.5,373.1 271.6,371.4 272.0,369.7 273.3,367.6 276.0,368.2" fill="#b4b4b4"/>
<rect x="274.9" y="369.0" width="1.6" height="1.3" fill="#c2c2c2"/>
<polygon points="283.5,370.4 282.4,372.6 279.5,372.6 278.3,372.1 277.9,370.2 280.5,367.9 281.8,368.5" fill="#b4b4b4"/>
<rect x="279.5" y="370.1" width="1.6" height="1.2" fill="#c2c2c2"/>
<polygon points="290.0,370.4 289.4,372.7 286.9,372.7 285.0,371.9 284.4,369.2 286.4,367.9 289.4,368.7" fill="#b4b4b4"/>
<rect x="286.9" y="370.5" width="1.4" height="1.2" fill="#b8b8b8"/>
<polygon points="297.1,370.7 296.1,372.2 293.2,373.5 290.9,371.2 291.1,369.0 292.8,368.3 295.4,368.2" fill="#7e7e7e"/>
<rect x="293.9" y="370.5" width="1.7" height="1.1" fill="#b8b8b8"/>
<polygon points="301.8,370.8 300.5,373.2 299.1,373.5 296.5,371.9 295.8,370.7 297.8,368.7 301.5,369.3" fill="#b4b4b4"/>
<rect x="298.2" y="370.3" width="2.0" height="1.1" fill="#b8b8b8"/>
<polygon points="281.1,376.0 280.4,378.0 277.4,378.0 275.6,377.8 275.8,374.7 278.0,373.1 280.1,373.7" fill="#b4b4b4"/>
<rect x="277.8" y="374.9" width="1.5" height="1.4" fill="#b8b8b8"/>
<polygon points="287.6,376.5 286.1,379.3 283.7,379.4 281.1,378.1 281.9,376.4 284.0,374.1 286.3,375.1" fill="#7e7e7e"/>
<rect x="283.1" y="377.0" width="1.1" height="1.1" fill="#c2c2c2"/>
<polygon points="295.2,377.3 293.8,379.6 291.0,379.7 288.4,377.8 289.2,376.4 291.6,375.0 293.7,375.5" fill="#9c9c9c"/>
<rect x="291.2" y="377.1" width="1.7" height="0.9" fill="#c2c2c2"/>
<polygon points="299.7,377.5 298.3,379.2 295.7,379.8 294.7,377.8 294.4,375.6 296.7,374.6 298.4,375.3" fill="#b4b4b4"/>
<rect x="297.6" y="377.3" width="1.1" height="1.2" fill="#c2c2c2"/>
<polygon points="306.3,376.0 305.8,377.0 303.6,378.4 301.4,376.9 301.6,374.3 302.8,372.9 305.0,373.8" fill="#b4b4b4"/>
<rect x="302.9" y="374.5" width="1.6" height="1.2" fill="#6f6f6f"/>
<polygon points="278.8,380.8 277.6,382.6 274.7,383.6 272.7,382.5 272.5,379.7 274.4,378.7 277.5,379.1" fill="#b4b4b4"/>
<rect x="275.3" y="381.4" width="1.7" height="1.1" fill="#c2c2c2"/>
<polygon points="283.9,381.6 282.3,384.0 280.4,384.5 278.0,382.7 278.0,380.2 279.1,379.2 281.9,379.7" fill="#7e7e7e"/>
<rect x="280.3" y="381.5" width="1.6" height="1.1" fill="#b8b8b8"/>
<polygon points="290.5,380.6 288.9,383.4 286.3,383.4 284.8,382.5 285.2,379.9 286.6,378.9 289.4,379.5" fill="#b4b4b4"/>
<rect x="286.6" y="381.3" width="1.1" height="1.1" fill="#6f6f6f"/>
<polygon points="298.4,381.3 297.2,383.4 295.0,383.8 292.1,382.2 291.8,380.0 293.8,378.7 297.7,379.3" fill="#8a8a8a"/>
<rect x="293.9" y="380.2" width="1.9" height="1.0" fill="#b8b8b8"/>
<polygon points="302.6,382.4 301.0,384.6 298.4,384.6 296.8,383.6 296.6,381.0 299.2,380.4 301.2,380.2" fill="#a6a6a6"/>
<rect x="298.5" y="381.6" width="1.6" height="0.9" fill="#b8b8b8"/>
<polygon points="282.6,387.0 280.2,388.5 278.7,389.2 276.6,388.0 275.6,385.9 277.6,384.2 281.0,384.6" fill="#a6a6a6"/>
<rect x="278.2" y="386.8" width="1.7" height="0.9" fill="#6f6f6f"/>
<polygon points="288.7,387.9 287.0,389.4 284.1,390.1 282.6,388.0 282.9,386.0 284.4,385.4 286.7,385.3" fill="#939393"/>
<rect x="285.0" y="387.3" width="1.5" height="1.1" fill="#6f6f6f"/>
<polygon points="294.5,386.7 293.0,388.4 289.8,389.2 288.6,388.0 288.3,385.6 290.3,384.8 292.9,384.4" fill="#939393"/>
<rect x="290.7" y="385.8" width="1.0" height="1.2" fill="#6f6f6f"/>
<polygon points="300.2,387.0 298.8,389.1 295.9,389.7 294.8,388.5 294.6,386.2 295.7,385.2 299.7,385.6" fill="#939393"/>
<rect x="296.3" y="386.5" width="1.3" height="0.9" fill="#c2c2c2"/>
<polygon points="307.0,387.7 305.7,390.0 302.9,390.1 301.4,388.5 301.4,386.8 304.3,385.0 305.5,385.1" fill="#a6a6a6"/>
<rect x="303.9" y="386.3" width="1.7" height="0.8" fill="#b8b8b8"/>
</g></g>
<clipPath id="c4"><polygon points="421.1,490.4 439.6,490.4 441.2,513.4 418.1,513.4"/></clipPath>
<g clip-path="url(#c4)"><g filter="url(#cobn)">
<rect x="417.1" y="489.4" width="25.099999999999966" height="25.0" fill="#5c5c5c"/>
<polygon points="419.2,491.0 418.8,492.6 415.0,493.6 413.8,491.8 413.9,490.1 415.5,489.1 418.3,488.6" fill="#7e7e7e"/>
<rect x="416.6" y="490.2" width="1.3" height="1.2" fill="#6f6f6f"/>
<polygon points="426.4,493.0 425.8,494.8 423.2,494.8 421.5,493.6 421.1,490.8 423.3,490.3 426.3,491.0" fill="#b4b4b4"/>
<rect x="422.7" y="492.1" width="1.3" height="1.1" fill="#b8b8b8"/>
<polygon points="431.5,491.7 431.2,493.7 428.1,494.0 426.3,492.2 426.6,490.3 428.8,488.8 430.5,489.6" fill="#9c9c9c"/>
<rect x="428.6" y="491.2" width="1.2" height="1.0" fill="#b8b8b8"/>
<polygon points="439.7,492.0 437.8,494.2 435.3,494.4 434.3,493.8 433.0,491.6 435.4,489.8 438.1,490.4" fill="#b4b4b4"/>
<rect x="436.6" y="491.8" width="1.9" height="1.2" fill="#c2c2c2"/>
<polygon points="445.6,491.1 444.9,493.1 441.4,493.6 440.7,492.8 439.4,490.7 441.8,489.3 444.3,488.9" fill="#9c9c9c"/>
<rect x="441.3" y="490.4" width="1.7" height="1.2" fill="#c2c2c2"/>
<polygon points="424.5,497.5 423.1,499.0 420.2,499.6 418.1,498.0 418.7,496.8 420.6,495.0 422.9,495.3" fill="#7e7e7e"/>
<rect x="421.6" y="497.0" width="1.0" height="1.0" fill="#6f6f6f"/>
<polygon points="429.2,496.3 427.7,498.0 424.4,499.0 422.9,497.1 423.2,495.0 425.5,493.9 427.4,495.0" fill="#939393"/>
<rect x="426.2" y="496.9" width="1.3" height="1.2" fill="#b8b8b8"/>
<polygon points="436.4,497.9 435.2,499.7 432.9,500.4 430.8,498.0 430.5,495.7 433.0,495.4 435.4,496.1" fill="#b4b4b4"/>
<rect x="433.6" y="497.7" width="1.7" height="1.1" fill="#b8b8b8"/>
<polygon points="442.1,496.9 440.7,498.6 438.0,499.3 435.8,498.4 436.2,496.2 437.2,494.4 440.3,494.7" fill="#8a8a8a"/>
<rect x="439.1" y="496.5" width="1.1" height="1.2" fill="#6f6f6f"/>
<polygon points="447.4,497.0 446.1,498.7 442.7,500.0 441.6,498.6 440.6,496.7 443.4,495.2 446.4,495.9" fill="#9c9c9c"/>
<rect x="442.7" y="496.3" width="1.6" height="1.3" fill="#6f6f6f"/>
<polygon points="420.5,502.9 419.8,504.2 416.9,504.8 414.3,503.1 414.9,501.2 417.0,500.2 418.6,500.2" fill="#b4b4b4"/>
<rect x="416.7" y="502.7" width="1.7" height="0.8" fill="#6f6f6f"/>
<polygon points="426.2,502.6 424.5,504.3 422.5,505.5 419.9,504.0 420.4,501.0 422.4,500.1 424.8,500.2" fill="#9c9c9c"/>
<rect x="421.9" y="502.8" width="1.8" height="1.2" fill="#b8b8b8"/>
<polygon points="432.3,502.2 430.9,503.7 429.3,504.0 426.8,502.5 427.0,500.4 428.8,499.5 431.1,500.2" fill="#9c9c9c"/>
<rect x="429.8" y="500.9" width="1.7" height="1.0" fill="#b8b8b8"/>
<polygon points="438.7,500.9 436.9,504.0 433.9,504.3 432.6,503.1 432.4,500.5 435.2,498.9 437.3,500.3" fill="#7e7e7e"/>
<rect x="435.1" y="501.6" width="1.6" height="1.3" fill="#6f6f6f"/>
<polygon points="444.6,503.3 442.9,505.8 441.1,505.7 438.7,504.8 438.7,501.6 440.6,501.1 443.5,501.9" fill="#9c9c9c"/>
<rect x="439.9" y="502.5" width="1.5" height="1.2" fill="#b8b8b8"/>
<polygon points="423.6,508.2 422.4,509.0 418.9,510.3 417.4,508.2 418.0,506.9 419.5,505.5 423.2,505.8" fill="#a6a6a6"/>
<rect x="420.9" y="506.5" width="1.1" height="0.8" fill="#c2c2c2"/>
<polygon points="429.5,508.2 427.7,509.7 425.8,510.8 423.2,509.7 423.4,507.5 426.0,505.4 428.3,506.1" fill="#939393"/>
<rect x="424.9" y="507.5" width="1.1" height="1.2" fill="#b8b8b8"/>
<polygon points="435.0,506.9 433.8,509.2 431.4,510.0 428.9,508.7 428.2,506.8 430.9,505.1 433.2,505.6" fill="#939393"/>
<rect x="430.1" y="508.0" width="1.3" height="1.2" fill="#6f6f6f"/>
<polygon points="440.9,508.0 439.8,510.2 438.1,510.5 435.3,509.1 435.9,507.0 438.0,505.6 440.6,506.5" fill="#b4b4b4"/>
<rect x="438.6" y="508.2" width="1.1" height="1.2" fill="#c2c2c2"/>
<polygon points="449.5,507.7 447.5,509.2 445.2,509.7 442.8,508.2 442.7,506.5 445.5,505.2 448.6,505.6" fill="#b4b4b4"/>
<rect x="445.8" y="507.4" width="1.6" height="1.1" fill="#c2c2c2"/>
<polygon points="421.5,512.4 420.2,514.9 417.5,515.1 416.1,514.1 415.3,511.3 417.9,510.8 421.0,511.2" fill="#8a8a8a"/>
<rect x="416.8" y="512.1" width="1.3" height="1.4" fill="#c2c2c2"/>
<polygon points="427.4,513.5 426.3,515.7 423.3,516.4 420.8,514.8 421.7,513.0 423.1,511.8 425.6,511.9" fill="#8a8a8a"/>
<rect x="423.9" y="513.4" width="1.2" height="1.2" fill="#6f6f6f"/>
<polygon points="432.1,512.6 430.3,514.8 427.6,515.3 426.2,513.2 426.8,511.4 428.2,510.6 430.9,510.5" fill="#7e7e7e"/>
<rect x="427.8" y="512.7" width="1.1" height="1.4" fill="#b8b8b8"/>
<polygon points="438.4,512.0 436.8,514.8 434.3,514.5 432.3,513.7 432.8,511.0 433.7,509.8 436.6,509.8" fill="#b4b4b4"/>
<rect x="434.6" y="511.5" width="1.7" height="1.2" fill="#b8b8b8"/>
<polygon points="446.4,514.4 444.7,516.3 442.7,516.6 440.0,515.0 440.2,512.5 443.1,511.8 444.9,512.6" fill="#a6a6a6"/>
<rect x="443.0" y="514.4" width="1.1" height="1.3" fill="#c2c2c2"/>
<polygon points="423.3,519.3 422.7,520.4 420.0,521.4 418.0,519.9 417.8,517.4 420.4,516.8 422.0,516.9" fill="#939393"/>
<rect x="420.4" y="518.0" width="1.6" height="1.0" fill="#6f6f6f"/>
<polygon points="428.7,519.5 428.5,521.1 425.9,521.1 423.2,520.6 423.1,517.4 425.5,516.9 427.9,516.7" fill="#9c9c9c"/>
<rect x="424.8" y="518.4" width="1.5" height="1.0" fill="#c2c2c2"/>
<polygon points="435.8,517.2 434.1,519.9 432.4,520.2 429.3,519.0 429.2,516.6 431.9,515.6 434.6,515.9" fill="#8a8a8a"/>
<rect x="432.5" y="516.7" width="1.4" height="1.3" fill="#c2c2c2"/>
<polygon points="440.7,517.3 439.8,519.4 437.2,519.8 435.1,519.0 434.7,516.3 437.9,515.3 439.7,515.5" fill="#8a8a8a"/>
<rect x="437.1" y="517.8" width="1.2" height="1.1" fill="#c2c2c2"/>
<polygon points="447.7,519.5 446.6,521.1 443.4,521.4 440.7,520.1 440.6,518.6 443.8,516.7 445.9,517.6" fill="#a6a6a6"/>
<rect x="443.5" y="519.5" width="1.2" height="1.1" fill="#6f6f6f"/>
</g></g>
</g>
</g>

<!-- LINES -->
<g stroke="#ffffff" stroke-width="1.8" stroke-linecap="round">
  <line x1="196.3" y1="34.7" x2="276.5" y2="56.2"/>
  <line x1="120.1" y1="185.9" x2="248.2" y2="151.7"/>
  <line x1="322.4" y1="157.8" x2="360.3" y2="195.7"/>
</g>

<!-- TEXT -->
<g filter="url(#ts)">
  <text class="lbl" x="163.5" y="29.7" font-size="17.5" textLength="70" lengthAdjust="spacingAndGlyphs">Titanium</text>
  <text class="lbl" x="44.4" y="195.5" font-size="17" textLength="63.2" lengthAdjust="spacingAndGlyphs">Remove</text>
  <text class="lbl" x="296" y="216.5" font-size="17" textLength="110.4" lengthAdjust="spacingAndGlyphs">Gray Titanium</text>
  <text class="lbl" x="524.3" y="62.5" font-size="17" textLength="48" lengthAdjust="spacingAndGlyphs">Step 1</text>
  <text class="lbl" x="530" y="247" font-size="17" textLength="49" lengthAdjust="spacingAndGlyphs">Step 2</text>
  <text class="lbl" x="258.5" y="261.5" font-size="17" textLength="48" lengthAdjust="spacingAndGlyphs">Step 3</text>
  <text class="lbl" x="403.5" y="396.4" font-size="17" textLength="48" lengthAdjust="spacingAndGlyphs">Step 4</text>
  <text class="lbl" x="14.5" y="445.5" font-size="17" textLength="97" lengthAdjust="spacingAndGlyphs">Titanium x 7</text>
  <text class="lbl" x="14.5" y="469.5" font-size="17" textLength="66" lengthAdjust="spacingAndGlyphs">Door x 1</text>
  <text class="lbl" x="14.5" y="493.5" font-size="17" textLength="138.5" lengthAdjust="spacingAndGlyphs">I/T/X Corridor x 1</text>
</g>

<!-- WATERMARK -->
<rect x="547" y="511.4" width="162.7" height="19.4" fill="#94733f"/>
<text x="571.4" y="526.6" font-family="Liberation Sans, sans-serif" font-size="15" fill="#ffffff" stroke="#ffffff" stroke-width="0.35" textLength="114" lengthAdjust="spacingAndGlyphs">LEMONCRAFT.RU</text>
</svg>
</body>
</html>
